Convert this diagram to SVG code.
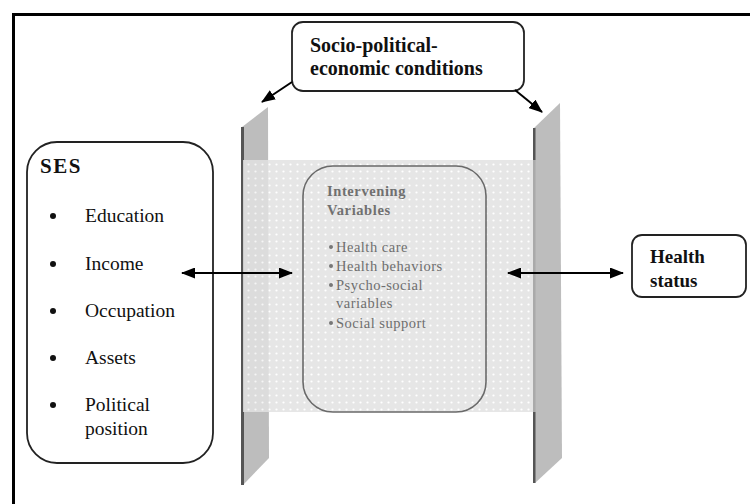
<svg xmlns="http://www.w3.org/2000/svg" width="750" height="504" viewBox="0 0 750 504">
<defs>
  <pattern id="dots" width="7" height="7" patternUnits="userSpaceOnUse">
    <rect width="7" height="7" fill="#e2e2e2"/>
    <circle cx="3.5" cy="3.5" r="1.1" fill="#ffffff"/>
  </pattern>
  <marker id="ah" viewBox="0 0 14 11" refX="13" refY="5.5" markerWidth="14" markerHeight="11" markerUnits="userSpaceOnUse" orient="auto-start-reverse">
    <path d="M0,0 L14,5.5 L0,11 Z" fill="#000"/>
  </marker>
</defs>
<style>
  text { font-family: "Liberation Serif", "DejaVu Serif", "Times New Roman", serif; }
  .bold { font-weight: bold; }
  .node { fill: #fff; stroke: #222; stroke-width: 1.8; }
  .conn { stroke: #000; stroke-width: 2; fill: none; }
  .panel { fill: #bdbdbd; }
  .edge { fill: #555; }
  .ses { font-size: 19.5px; fill: #111; }
  .iv { font-size: 14.5px; fill: #6e6e6e; }
</style>
<rect width="750" height="504" fill="#fff"/>
<!-- frame -->
<path d="M13.5,504 V14.5 H750" fill="none" stroke="#000" stroke-width="3"/>

<!-- left panel -->
<g id="panel-left">
  <polygon class="panel" points="242,127 268,107 269,458 243,485"/>
  <rect class="edge" x="241" y="127" width="3" height="358"/>
</g>

<!-- shaded intervening zone -->
<rect x="243" y="160" width="292" height="252" fill="url(#dots)" opacity="0.85"/>

<!-- right panel -->
<g id="panel-right">
  <polygon class="panel" points="534,128 560,103 562,458 535,483"/>
  <rect class="edge" x="533" y="128" width="2.5" height="32"/>
  <rect class="edge" x="533" y="412" width="2.5" height="71"/>
  <rect x="533" y="160" width="2.5" height="252" fill="#aaa"/>
</g>

<g id="socio">
  <rect class="node" x="292" y="22" width="232" height="69" rx="11"/>
  <text class="bold" font-size="20" x="310" y="52" fill="#111">Socio-political-</text>
  <text class="bold" font-size="20" x="310" y="75" fill="#111">economic conditions</text>
</g>

<g id="ses">
  <rect class="node" x="27" y="142" width="186" height="321" rx="30"/>
  <text class="bold" font-size="21" x="40" y="173" fill="#111" letter-spacing="1.5">SES</text>
  <circle cx="53" cy="216" r="3" fill="#111"/>
  <text class="ses" x="85" y="222">Education</text>
  <circle cx="53" cy="264" r="3" fill="#111"/>
  <text class="ses" x="85" y="270">Income</text>
  <circle cx="53" cy="311" r="3" fill="#111"/>
  <text class="ses" x="85" y="317">Occupation</text>
  <circle cx="53" cy="358" r="3" fill="#111"/>
  <text class="ses" x="85" y="364">Assets</text>
  <circle cx="53" cy="405" r="3" fill="#111"/>
  <text class="ses" x="85" y="411">Political</text>
  <text class="ses" x="85" y="435">position</text>
</g>

<g id="intervening">
  <rect x="303" y="166" width="183" height="246" rx="30" fill="none" stroke="#6a6a6a" stroke-width="1.6"/>
  <text class="bold" font-size="14.5" x="327" y="196" fill="#707070" letter-spacing="0.6">Intervening</text>
  <text class="bold" font-size="14.5" x="327" y="215" fill="#707070" letter-spacing="0.6">Variables</text>
  <circle cx="331" cy="247" r="2" fill="#777"/>
  <text class="iv" x="336" y="252" letter-spacing="0.5">Health care</text>
  <circle cx="331" cy="266" r="2" fill="#777"/>
  <text class="iv" x="336" y="271" letter-spacing="0.5">Health behaviors</text>
  <circle cx="331" cy="285" r="2" fill="#777"/>
  <text class="iv" x="336" y="290" letter-spacing="0.5">Psycho-social</text>
  <text class="iv" x="336" y="308" letter-spacing="0.5">variables</text>
  <circle cx="331" cy="323" r="2" fill="#777"/>
  <text class="iv" x="336" y="328" letter-spacing="0.5">Social support</text>
</g>

<g id="health">
  <rect class="node" x="632" y="235" width="114" height="62" rx="10"/>
  <text class="bold" font-size="19" x="650" y="263" fill="#111">Health</text>
  <text class="bold" font-size="19" x="650" y="287" fill="#111">status</text>
</g>

<g id="connectors">
  <line class="conn" x1="292" y1="82" x2="262" y2="102" marker-end="url(#ah)"/>
  <line class="conn" x1="515" y1="90" x2="542" y2="112" marker-end="url(#ah)"/>
  <line class="conn" x1="182" y1="273" x2="292" y2="273" marker-start="url(#ah)" marker-end="url(#ah)"/>
  <line class="conn" x1="508" y1="273" x2="623" y2="273" marker-start="url(#ah)" marker-end="url(#ah)"/>
</g>
</svg>
